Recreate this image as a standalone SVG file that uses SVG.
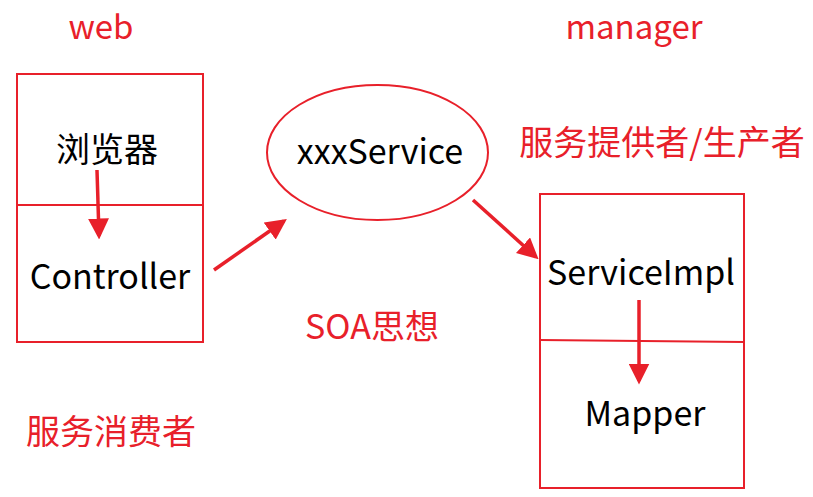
<svg xmlns="http://www.w3.org/2000/svg" width="813" height="497" viewBox="0 0 813 497">
<style>
.box{fill:none;stroke:#E8202A;stroke-width:2}
.lbl{font-family:"Noto Sans CJK SC","Open Sans",sans-serif;fill:#000;font-size:34px}
.red{font-family:"Noto Sans CJK SC","Open Sans",sans-serif;fill:#E8202A;font-size:34px}
.conn{stroke:#E8202A;stroke-width:3.5;fill:none;marker-end:url(#ah)}
</style>
<defs>
<marker id="ah" markerWidth="6" markerHeight="6" refX="5" refY="3" orient="auto" markerUnits="strokeWidth" viewBox="0 0 6 6">
<path d="M0,0 L6,3 L0,6 z" fill="#E8202A"/>
</marker>
</defs>
<rect width="813" height="497" fill="#fff"/>
<text class="red" x="101" y="39" text-anchor="middle" style="font-size:33px">web</text>
<text class="red" x="634" y="39" text-anchor="middle" style="font-size:33px">manager</text>
<text class="red" x="662" y="155" text-anchor="middle">服务提供者/生产者</text>
<text class="red" x="372" y="339" text-anchor="middle">SOA思想</text>
<text class="red" x="111" y="444" text-anchor="middle">服务消费者</text>
<g id="web">
<rect class="box" x="17" y="74" width="186" height="268"/>
<line class="box" x1="17" y1="205" x2="203" y2="205"/>
<text class="lbl" x="107" y="162" text-anchor="middle">浏览器</text>
<text class="lbl" x="110" y="289" text-anchor="middle">Controller</text>
</g>
<g id="service">
<ellipse class="box" cx="377.5" cy="152.5" rx="110.5" ry="67.5"/>
<text class="lbl" x="380" y="164" text-anchor="middle">xxxService</text>
</g>
<g id="manager">
<rect class="box" x="540" y="194" width="204" height="294"/>
<line class="box" x1="540" y1="340" x2="744" y2="342"/>
<text class="lbl" x="641" y="285" text-anchor="middle">ServiceImpl</text>
<text class="lbl" x="645" y="426" text-anchor="middle">Mapper</text>
</g>
<g id="connectors">
<line class="conn" x1="97" y1="170" x2="99" y2="236"/>
<line class="conn" x1="214" y1="270" x2="284" y2="221"/>
<line class="conn" x1="473" y1="200" x2="536" y2="257"/>
<line class="conn" x1="639" y1="300" x2="639" y2="381"/>
</g>
</svg>
